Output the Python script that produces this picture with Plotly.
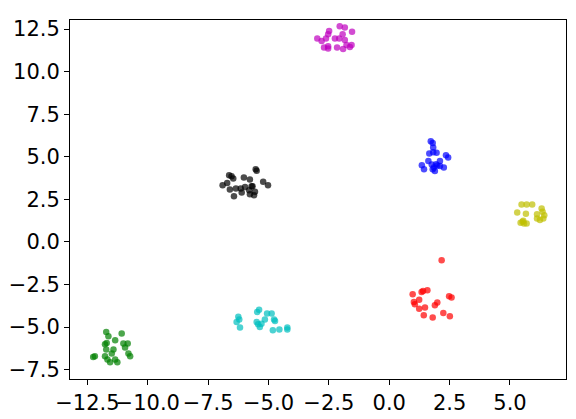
import plotly.graph_objects as go

# cluster points
magenta_x = [-2.98, -2.80, -2.62, -2.49, -2.53, -2.70, -2.53, -2.53, -2.25, -2.16,
             -2.07, -2.05, -1.84, -1.93, -1.84, -1.77, -1.91, -1.63, -1.56, -1.54]
magenta_y = [11.95, 11.79, 11.95, 12.38, 12.19, 11.42, 11.49, 11.36, 11.95, 11.42,
             11.95, 12.67, 12.59, 12.19, 11.85, 11.56, 11.32, 11.45, 11.56, 12.34]

blue_x = [1.72, 1.80, 1.82, 1.66, 1.82, 1.96, 2.35, 2.44, 1.35, 1.44,
          1.62, 1.76, 1.85, 1.94, 2.10, 2.10, 1.89, 2.26, 1.99, 1.80]
blue_y = [5.91, 5.81, 5.55, 5.19, 5.27, 5.23, 5.09, 4.96, 4.50, 4.26,
          4.75, 4.55, 4.37, 4.56, 4.75, 4.45, 4.16, 4.37, 4.49, 4.26]

yellow_x = [5.30, 5.48, 5.69, 5.92, 5.66, 6.31, 6.35, 6.12, 6.42, 6.12,
            6.24, 6.38, 5.52, 5.58, 5.44, 5.69, 5.55]
yellow_y = [1.73, 2.19, 2.19, 2.19, 1.66, 1.96, 1.77, 1.62, 1.56, 1.37,
            1.28, 1.37, 1.18, 1.08, 1.12, 1.08, 1.24]

black_x = [-6.90, -6.71, -6.63, -6.53, -6.46, -6.60, -6.35, -6.15, -6.11, -6.43,
           -5.97, -6.02, -5.77, -5.70, -5.66, -5.56, -5.77, -5.60, -5.53, -5.49,
           -5.22, -5.02, -5.80]
black_y = [3.33, 3.46, 3.92, 3.86, 3.73, 3.08, 3.14, 3.14, 2.90, 2.68,
           3.23, 3.78, 3.67, 3.27, 3.27, 2.94, 2.80, 2.74, 4.26, 4.18,
           3.53, 3.33, 3.04]

red_x = [2.17, 0.97, 1.34, 1.40, 1.58, 1.24, 1.02, 1.06, 1.24, 1.48,
         1.89, 1.99, 2.48, 2.58, 2.24, 1.43, 1.80, 2.51]
red_y = [-1.08, -3.07, -2.94, -2.88, -2.84, -3.39, -3.53, -3.66, -3.92, -3.85,
         -3.72, -3.56, -3.19, -3.27, -4.17, -4.31, -4.44, -4.36]

cyan_x = [-6.25, -6.21, -6.32, -6.18, -5.47, -5.39, -5.49, -5.43, -5.36, -5.15,
          -5.06, -4.87, -4.77, -4.73, -4.82, -4.55, -4.22, -4.22, -5.29]
cyan_y = [-4.40, -4.56, -4.70, -5.03, -4.11, -3.98, -4.70, -4.84, -4.99, -4.56,
          -4.21, -4.21, -4.56, -4.65, -5.19, -5.15, -5.03, -5.15, -4.80]

green_x = [-11.72, -11.63, -11.08, -11.35, -11.77, -11.70, -11.72, -11.42, -11.49, -11.01,
           -10.83, -10.94, -10.80, -10.73, -12.26, -12.19, -11.77, -11.67, -11.56, -11.35,
           -11.26]
green_y = [-5.29, -5.54, -5.38, -5.78, -6.01, -5.94, -6.32, -6.32, -6.56, -5.97,
           -5.97, -6.20, -6.56, -6.72, -6.76, -6.72, -6.72, -6.91, -7.06, -6.91,
           -7.06]

x_ticks = [-12.5, -10.0, -7.5, -5.0, -2.5, 0.0, 2.5, 5.0]
y_ticks = [-7.5, -5.0, -2.5, 0.0, 2.5, 5.0, 7.5, 10.0, 12.5]

clusters = [
    (magenta_x, magenta_y, "#bf00bf"),
    (blue_x, blue_y, "#0000ff"),
    (yellow_x, yellow_y, "#bfbf00"),
    (black_x, black_y, "#000000"),
    (red_x, red_y, "#ff0000"),
    (cyan_x, cyan_y, "#00bfbf"),
    (green_x, green_y, "#008000"),
]

fig = go.Figure()
for xs, ys, col in clusters:
    fig.add_trace(go.Scatter(
        x=xs, y=ys, mode="markers",
        marker=dict(size=6.5, color=col, opacity=0.7, line=dict(width=0)),
        showlegend=False,
    ))

axis_style = dict(
    showgrid=False, zeroline=False,
    showline=True, mirror=True, linecolor="black", linewidth=1,
    ticks="outside", ticklen=5, tickwidth=1, tickcolor="black",
    tickformat=".1f", automargin=False,
)
fig.update_xaxes(range=[-13.22, 7.32], tickvals=x_ticks, tickangle=0, **axis_style)
fig.update_yaxes(range=[-8.05, 13.03], tickvals=y_ticks, **axis_style)

# page body adds an 8px offset, so the figure is drawn 8px smaller
fig.update_layout(
    width=568, height=411,
    margin=dict(l=62, r=10, t=12, b=40),
    plot_bgcolor="white", paper_bgcolor="white",
    font=dict(family="DejaVu Sans", size=21, color="black"),
)

fig.write_html("out.html")
